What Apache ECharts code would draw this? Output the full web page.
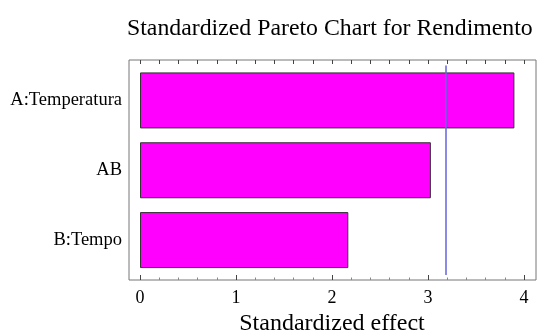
<!DOCTYPE html>
<html><head><meta charset="utf-8">
<script src="https://cdn.jsdelivr.net/npm/echarts@6/dist/echarts.min.js"></script>
<style>html,body{margin:0;padding:0;background:#fff}#c{width:541px;height:334px}</style>
</head><body><div id="c"></div>
<script>
const categories = ['A:Temperatura', 'AB', 'B:Tempo'];
const effects = [3.90, 3.03, 2.17];
const criticalValue = 3.182;
const xTickLabels = ['0', '1', '2', '3', '4'];

const font = 'Liberation Serif';
const chart = echarts.init(document.getElementById('c'));
chart.setOption({
  animation: false,
  title: {
    text: 'Standardized Pareto Chart for Rendimento',
    left: 122, top: 12,
    textStyle: {fontFamily: font, fontSize: 23.8, fontWeight: 'normal', color: '#000'}
  },
  grid: [
    {left: 129, right: 5, top: 60, bottom: 54, show: true, borderColor: '#777', borderWidth: 1, backgroundColor: 'transparent', outerBoundsMode: 'none', containLabel: false},
    {left: 140, right: 17, top: 60, bottom: 54, show: false, outerBoundsMode: 'none', containLabel: false},
    {left: 140, right: 17, top: 65.5, bottom: 59, show: false, outerBoundsMode: 'none', containLabel: false}
  ],
  xAxis: [
    {gridIndex: 0, type: 'value', show: false},
    {gridIndex: 1, type: 'value', min: 0, max: 4, interval: 1, position: 'bottom',
     axisLine: {show: false, onZero: false},
     axisTick: {show: true, inside: true, length: 5, lineStyle: {color: '#444'}},
     minorTick: {show: true, splitNumber: 5, length: 2.5, lineStyle: {color: '#888'}},
     splitLine: {show: false},
     axisLabel: {fontFamily: font, fontSize: 18, color: '#000', margin: 9,
       formatter: (v) => xTickLabels[Math.round(v)]},
     name: 'Standardized effect', nameLocation: 'middle', nameGap: 32,
     nameTextStyle: {fontFamily: font, fontSize: 24, color: '#000'}
    },
    {gridIndex: 1, type: 'value', min: 0, max: 4, interval: 0.2, position: 'top',
     axisLine: {show: false, onZero: false},
     axisTick: {show: true, inside: true, length: 4, lineStyle: {color: '#444'}},
     splitLine: {show: false}, axisLabel: {show: false}
    },
    {gridIndex: 2, type: 'value', min: 0, max: 4, show: false}
  ],
  yAxis: [
    {gridIndex: 0, type: 'value', show: false},
    {gridIndex: 1, type: 'value', show: false},
    {gridIndex: 2, type: 'category', data: categories, inverse: true,
     axisLine: {show: false}, axisTick: {show: false},
     axisLabel: {fontFamily: font, fontSize: 18.5, color: '#000', margin: 18}}
  ],
  series: [{
    type: 'bar', xAxisIndex: 3, yAxisIndex: 2, data: effects, barWidth: 56,
    itemStyle: {color: '#ff00ff', borderColor: '#333', borderWidth: 1},
    markLine: {
      silent: true, symbol: 'none', label: {show: false},
      lineStyle: {color: '#6464dc', type: 'solid', width: 1.5},
      data: [{xAxis: criticalValue}]
    }
  }]
});
</script></body></html>
